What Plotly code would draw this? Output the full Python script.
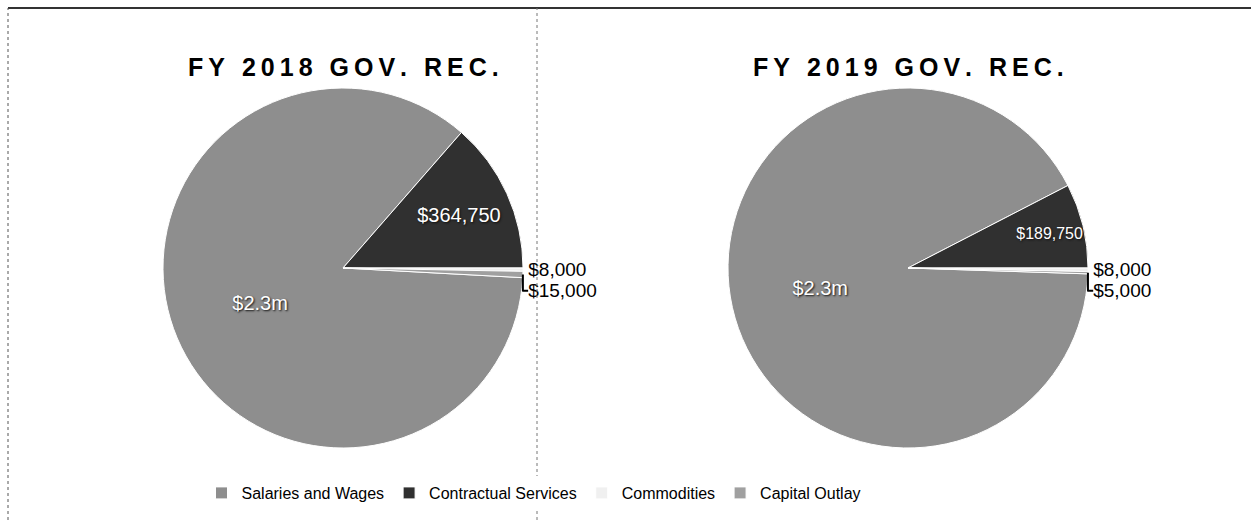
import plotly.graph_objects as go

categories = ["Salaries and Wages", "Contractual Services", "Commodities", "Capital Outlay"]
fy2018_values = [2300000, 364750, 8000, 15000]
fy2019_values = [2300000, 189750, 8000, 5000]
fy2018_text = ["$2.3m", "$364,750", "$8,000", "$15,000"]
fy2019_text = ["$2.3m", "$189,750", "$8,000", "$5,000"]
titles = ["FY 2018 GOV. REC.", "FY 2019 GOV. REC."]

colors = ["#8e8e8e", "#303030", "#f0f0f0", "#a0a0a0"]
positions = ["inside", "inside", "outside", "outside"]


def spaced(s):
    return "\u2009".join(list(s))


def rotation_for(vals):
    total = sum(vals)
    return 90 + (vals[2] + vals[3]) / total * 360


fig = go.Figure()
W, H = 1251, 520
R = 180
centers = [(343, 268), (908, 268)]
for i, (vals, txt) in enumerate([(fy2018_values, fy2018_text), (fy2019_values, fy2019_text)]):
    cx, cy = centers[i]
    fig.add_trace(go.Pie(
        labels=categories,
        values=vals,
        text=txt,
        textinfo="text",
        textposition=positions,
        insidetextorientation="horizontal",
        sort=False,
        direction="clockwise",
        rotation=rotation_for(vals),
        marker=dict(colors=colors, line=dict(color="white", width=1)),
        insidetextfont=dict(family="Arial, Liberation Sans", size=20, color="white",
                            shadow="1px 1px 2px #111"),
        outsidetextfont=dict(family="Arial, Liberation Sans", size=19, color="black"),
        domain=dict(x=[(cx - R) / W, (cx + R) / W], y=[1 - (cy + R) / H, 1 - (cy - R) / H]),
        showlegend=(i == 0),
        hoverinfo="label+value",
    ))
    fig.add_annotation(
        text="<b>" + spaced(titles[i]) + "</b>",
        x=cx / W, y=1 - 67 / H, xref="paper", yref="paper",
        xanchor="center", yanchor="middle", showarrow=False,
        font=dict(family="Arial, Liberation Sans", size=25, color="black"),
    )

# frame lines of the scanned page
fig.add_shape(type="line", xref="paper", yref="paper", x0=8 / W, x1=1, y0=1 - 8 / H, y1=1 - 8 / H,
              line=dict(color="#333", width=2))
fig.add_shape(type="line", xref="paper", yref="paper", x0=8 / W, x1=8 / W, y0=0, y1=1 - 8 / H,
              line=dict(color="#555", width=1, dash="dot"))
fig.add_shape(type="line", xref="paper", yref="paper", x0=537 / W, x1=537 / W, y0=0, y1=1 - 8 / H,
              line=dict(color="#777", width=1, dash="dot"))

fig.update_layout(
    width=W, height=H,
    margin=dict(l=0, r=0, t=0, b=0),
    paper_bgcolor="white", plot_bgcolor="white",
    font=dict(family="Arial, Liberation Sans", color="black"),
    legend=dict(orientation="h", x=534 / W, y=1 - 493 / H, xanchor="center", yanchor="middle",
                font=dict(size=16, family="Arial, Liberation Sans", color="black"),
                itemwidth=30, traceorder="normal"),
)

fig.write_html("out.html", config={"displayModeBar": False},
               post_script="document.body.style.margin='0';")
